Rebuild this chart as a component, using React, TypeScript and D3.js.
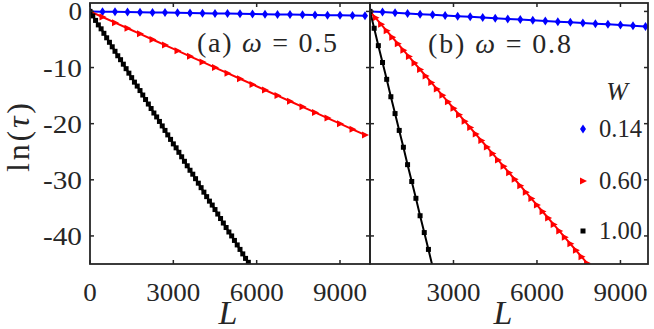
import React from 'react';
import * as d3 from 'd3';

// ---- data ----
const L_450 = [0,450,900,1350,1800,2250,2700,3150,3600,4050,4500,4950,5400,5850,6300,6750,7200,7650,8100,8550,9000,9450,9900];
const L_100 = [0,100,200,300,400,500,600,700,800,900,1000,1100,1200,1300,1400,1500,1600,1700,1800,1900,2000,2100,2200,2300,2400,2500,2600,2700,2800,2900,3000,3100,3200,3300,3400,3500,3600,3700,3800,3900,4000,4100,4200,4300,4400,4500,4600,4700,4800,4900,5000,5100,5200,5300,5400,5500,5600,5700,5800];
const L_200 = [0,200,400,600,800,1000,1200,1400,1600,1800,2000,2200,2400,2600,2800,3000,3200,3400,3600,3800,4000,4200,4400,4600,4800,5000,5200,5400,5600,5800,6000,6200,6400,6600,6800,7000,7200,7400,7600,7800,8000];
const L_150 = [0,150,300,450,600,750,900,1050,1200,1350,1500,1650,1800,1950,2100,2250];

// panel (a) omega = 0.5
const blueA = [0,-0.04,-0.07,-0.11,-0.14,-0.18,-0.21,-0.25,-0.28,-0.32,-0.35,-0.39,-0.42,-0.46,-0.49,-0.53,-0.56,-0.60,-0.63,-0.67,-0.70,-0.74,-0.77];
const redA = [0,-1,-2,-3,-4,-5,-6,-7,-8,-9,-10,-11,-12,-13,-14,-15,-16,-17,-18,-19,-20,-21,-22];
const blackA = [0,-0.8,-1.6,-2.4,-3.1,-3.9,-4.7,-5.5,-6.3,-7.1,-7.9,-8.6,-9.4,-10.2,-11.0,-11.8,-12.6,-13.3,-14.1,-14.9,-15.7,-16.5,-17.3,-18.1,-18.8,-19.6,-20.4,-21.2,-22.0,-22.8,-23.6,-24.3,-25.1,-25.9,-26.7,-27.5,-28.3,-29.0,-29.8,-30.6,-31.4,-32.2,-33.0,-33.8,-34.5,-35.3,-36.1,-36.9,-37.7,-38.5,-39.3,-40.0,-40.8,-41.6,-42.4,-43.2,-44.0,-44.7,-45.5];

// panel (b) omega = 0.8
const blueB = [0,-0.12,-0.24,-0.36,-0.49,-0.61,-0.73,-0.85,-0.97,-1.09,-1.21,-1.33,-1.46,-1.58,-1.70,-1.82,-1.94,-2.06,-2.18,-2.30,-2.43,-2.55,-2.67];
const redB = [0,-1.15,-2.3,-3.45,-4.6,-5.75,-6.9,-8.05,-9.2,-10.35,-11.5,-12.65,-13.8,-14.95,-16.1,-17.25,-18.4,-19.55,-20.7,-21.85,-23.0,-24.15,-25.3,-26.45,-27.6,-28.75,-29.9,-31.05,-32.2,-33.35,-34.5,-35.65,-36.8,-37.95,-39.1,-40.25,-41.4,-42.55,-43.7,-44.85,-46.0];
const blackB = [0,-3.0,-6.1,-9.1,-12.1,-15.2,-18.2,-21.2,-24.2,-27.3,-30.3,-33.3,-36.4,-39.4,-42.4,-45.5];

const yTicks = [0,-10,-20,-30,-40];
const xTicks = [0,3000,6000,9000];
const legendW = ['0.14','0.60','1.00'];
const panelLabels = ['(a) ', '(b) '];
const omegaVals = ['0.5', '0.8'];

const FONT = '"Liberation Serif", "Times New Roman", Times, serif';
const fit = (w: number) => ({ textLength: w, lengthAdjust: 'spacingAndGlyphs' });

const AX = '#262626';

const Y_TOP = 3, Y_BOT = 264;
const yScale = d3.scaleLinear().domain([-45, 1.5]).range([Y_BOT, Y_TOP]);

type Series = { L: number[]; v: number[]; color: string; marker: 'd' | 't' | 's' };

const panels = [
  {
    id: 'a', x0: 90, x1: 370, xmax: 10080, labels: true, xLabels: [0,3000,6000,9000],
    series: [
      { L: L_450, v: blueA, color: '#0000ff', marker: 'd' },
      { L: L_450, v: redA, color: '#ff0000', marker: 't' },
      { L: L_100, v: blackA, color: '#000000', marker: 's' },
    ] as Series[],
  },
  {
    id: 'b', x0: 370, x1: 648, xmax: 9990, labels: false, xLabels: [3000,6000,9000],
    series: [
      { L: L_450, v: blueB, color: '#0000ff', marker: 'd' },
      { L: L_200, v: redB, color: '#ff0000', marker: 't' },
      { L: L_150, v: blackB, color: '#000000', marker: 's' },
    ] as Series[],
  },
];

function Marker({ type, x, y, color }: { type: string; x: number; y: number; color: string }) {
  if (type === 'd') return <path d={`M${x},${y - 4.5}L${x + 3},${y}L${x},${y + 4.5}L${x - 3},${y}Z`} fill={color} />;
  if (type === 't') return <path d={`M${x - 3},${y - 3.5}L${x + 4},${y}L${x - 3},${y + 3.5}Z`} fill={color} />;
  return <rect x={x - 2.5} y={y - 2.5} width={5} height={5} fill={color} />;
}

export default function App() {
  return (
    <svg width={654} height={329} style={{ position: 'absolute', left: 0, top: 0, background: '#fff', fontFamily: FONT }}>
      <rect width={654} height={329} fill="#fff" />
      <defs>
        {panels.map(p => (
          <clipPath key={p.id} id={`clip-${p.id}`}>
            <rect x={p.x0} y={Y_TOP} width={p.x1 - p.x0} height={Y_BOT - Y_TOP} />
          </clipPath>
        ))}
      </defs>
      {panels.map((p, pi) => {
        const xs = d3.scaleLinear().domain([0, p.xmax]).range([p.x0, p.x1]);
        const line = d3.line<[number, number]>().x(d => xs(d[0])).y(d => yScale(d[1]));
        return (
          <g key={p.id}>
            <g clipPath={`url(#clip-${p.id})`}>
              {p.series.map((s, si) => {
                const pts: [number, number][] = s.L.map((l, i) => [l, s.v[i]]);
                return (
                  <g key={si}>
                    <path d={line(pts) || ''} fill="none" stroke={s.color} strokeWidth={2} />
                    {pts.filter(d => d[1] >= -45.2 && d[0] <= p.xmax).map((d, i) => (
                      <Marker key={i} type={s.marker} x={xs(d[0])} y={yScale(d[1])} color={s.color} />
                    ))}
                  </g>
                );
              })}
            </g>
            <rect x={p.x0} y={Y_TOP} width={p.x1 - p.x0} height={Y_BOT - Y_TOP} fill="none" stroke={AX} strokeWidth={1.8} />
            {xTicks.map(t => (
              <g key={`xt${t}`}>
                <line x1={xs(t)} x2={xs(t)} y1={Y_BOT} y2={Y_BOT - 4} stroke={AX} strokeWidth={1.5} />
                <line x1={xs(t)} x2={xs(t)} y1={Y_TOP} y2={Y_TOP + 4} stroke={AX} strokeWidth={1.5} />
              </g>
            ))}
            {yTicks.map(t => (
              <g key={`yt${t}`}>
                <line x1={p.x0} x2={p.x0 + 4} y1={yScale(t)} y2={yScale(t)} stroke={AX} strokeWidth={1.5} />
                <line x1={p.x1} x2={p.x1 - 4} y1={yScale(t)} y2={yScale(t)} stroke={AX} strokeWidth={1.5} />
              </g>
            ))}
            {p.xLabels.map(t => (
              <text key={`xl${t}`} x={xs(t)} y={301} textAnchor="middle" fontSize={26} fill={AX} {...fit(String(t).length * 13.5)}>{t}</text>
            ))}
            {p.labels && yTicks.map(t => {
              const s = t === 0 ? '0' : `-${Math.abs(t)}`;
              return (
                <text key={`yl${t}`} x={82} y={yScale(t) + 9} textAnchor="end" fontSize={26} fill={AX} {...fit(t === 0 ? 13.5 : 39)}>{s}</text>
              );
            })}
            <text x={pi === 0 ? 228 : 503} y={324} textAnchor="middle" fontSize={34} fontStyle="italic" fill={AX}>L</text>
            <text x={pi === 0 ? 197 : 428} y={pi === 0 ? 52 : 53} fontSize={28} fill={AX} textLength={pi === 0 ? 140 : 143} lengthAdjust="spacing">
              {panelLabels[pi]}<tspan fontStyle="italic">ω</tspan> = {omegaVals[pi]}
            </text>
          </g>
        );
      })}
      <text transform="translate(29,137.5) rotate(-90)" textAnchor="middle" fontSize={32} fill={AX} textLength={69} lengthAdjust="spacing">
        ln(<tspan fontStyle="italic">τ</tspan>)
      </text>
      <text x={617} y={100} textAnchor="middle" fontSize={26} fontStyle="italic" fill={AX}>W</text>
      {legendW.map((w, i) => {
        const y = [129, 181, 231][i];
        const s = panels[1].series[i];
        return (
          <g key={w}>
            <Marker type={s.marker} x={583} y={y} color={s.color} />
            <text x={599} y={y + 8} fontSize={26} fill={AX} {...fit(43)}>{w}</text>
          </g>
        );
      })}
    </svg>
  );
}
